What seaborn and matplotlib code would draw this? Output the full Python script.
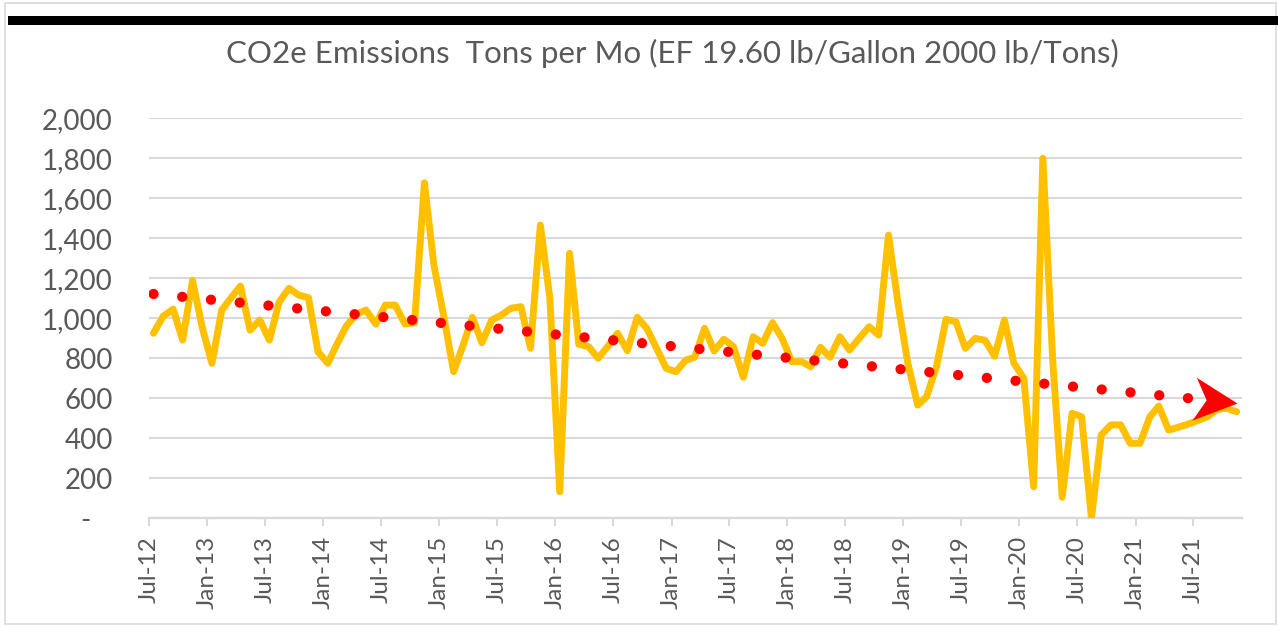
import numpy as np
import pandas as pd
import seaborn as sns
import matplotlib.pyplot as plt
import matplotlib.dates as mdates
from matplotlib.path import Path
from matplotlib.markers import MarkerStyle
from matplotlib.transforms import Affine2D
from matplotlib.patches import Rectangle

# monthly CO2e tons, Jul-12 .. Nov-21
emissions = [925, 1011, 1046, 891, 1190, 958, 775, 1041, 1100, 1161, 941, 991,
             891, 1083, 1150, 1116, 1103, 833, 775, 878, 963, 1021, 1041, 971,
             1066, 1066, 971, 978, 1678, 1265, 1010, 733, 858, 1005, 878, 991,
             1016, 1050, 1058, 850, 1466, 1100, 133, 1325, 871, 858, 800, 861,
             925, 838, 1005, 950, 850, 750, 733, 791, 805, 950, 837, 895,
             858, 705, 908, 875, 978, 900, 783, 783, 758, 855, 805, 908,
             841, 900, 958, 916, 1416, 1075, 775, 566, 608, 758, 995, 983,
             850, 900, 890, 810, 991, 775, 700, 158, 1800, 790, 105, 525,
             508, 0, 417, 467, 467, 375, 375, 508, 561, 441, 455, 471,
             488, 508, 545, 550, 533]
start_month = "2012-07-01"
y_ticks = [0, 200, 400, 600, 800, 1000, 1200, 1400, 1600, 1800, 2000]
y_labels = ["-   ", "200", "400", "600", "800", "1,000", "1,200", "1,400",
            "1,600", "1,800", "2,000"]
title = "CO2e Emissions  Tons per Mo (EF 19.60 lb/Gallon 2000 lb/Tons)"

# points sit mid-month on a date axis
dates = pd.date_range(start_month, periods=len(emissions), freq="MS") + pd.Timedelta(days=14)
df = pd.DataFrame({"date": dates, "tons": emissions})

sns.set_style("white")
plt.rcParams["font.family"] = ["Lato", "DejaVu Sans"]
grey = "#595959"
grid = "#d9d9d9"

fig = plt.figure(figsize=(12.78, 6.27), dpi=100)
ax = fig.add_axes([149 / 1278, 1 - 518.3 / 627, (1241.7 - 149) / 1278, 400 / 627])

sns.lineplot(data=df, x="date", y="tons", ax=ax, color="#FFC000", linewidth=5,
             solid_joinstyle="round", solid_capstyle="round", zorder=3)

# linear trend (Excel style dotted trendline with arrow)
xnum = mdates.date2num(df["date"])
k, b = np.polyfit(xnum, df["tons"], 1)
trend = k * xnum + b
ax.plot([xnum[0], xnum[-1]], [trend[0], trend[-1]], color="red", linewidth=7.4,
        linestyle=(0, (0.01, 2.8)), dash_capstyle="round", zorder=4)

ax.set_xlim(mdates.datestr2num("2012-07-01"), mdates.datestr2num("2021-12-01"))
ax.set_ylim(0, 2000)

# arrow head at end of trend, rotated along the line in display space
p0 = ax.transData.transform((xnum[0], trend[0]))
p1 = ax.transData.transform((xnum[-1], trend[-1]))
ang = np.degrees(np.arctan2(p1[1] - p0[1], p1[0] - p0[0]))
stealth = Path([(0, 0), (-1, 0.5), (-0.72, 0), (-1, -0.5), (0, 0)],
               [Path.MOVETO, Path.LINETO, Path.LINETO, Path.LINETO, Path.CLOSEPOLY])
head = MarkerStyle(stealth, transform=Affine2D().rotate_deg(ang))
ax.plot([xnum[-1]], [trend[-1]], marker=head, markersize=62, color="red",
        markeredgewidth=0, linestyle="none", zorder=5)

ax.set_yticks(y_ticks)
ax.set_yticklabels(y_labels)
ax.xaxis.set_major_locator(mdates.MonthLocator(bymonth=[1, 7]))
ax.xaxis.set_major_formatter(mdates.DateFormatter("%b-%y"))
plt.setp(ax.get_xticklabels(), rotation=90)

ax.grid(axis="y", color=grid, linewidth=1.5)
ax.grid(axis="x", visible=False)
ax.set_axisbelow(True)
for s in ["left", "right", "top"]:
    ax.spines[s].set_visible(False)
ax.spines["bottom"].set_color(grid)
ax.spines["bottom"].set_linewidth(1.7)
ax.tick_params(axis="x", bottom=True, direction="out", length=5.8, width=1.5,
               color=grid, labelsize=17.5, labelcolor=grey, pad=7)
ax.tick_params(axis="y", left=False, length=0, labelsize=20, labelcolor=grey, pad=26)
ax.set_xlabel("")
ax.set_ylabel("")

fig.text(672 / 1278, 1 - 63.3 / 627, title, ha="center", va="baseline",
         fontsize=22.5, color=grey)

# chart frame and black header bar
fig.add_artist(Rectangle((5 / 1278, 3 / 627), 1271 / 1278, 621 / 627,
                         transform=fig.transFigure, fill=False, edgecolor=grid, linewidth=1.2))
fig.add_artist(Rectangle((8 / 1278, 1 - 25 / 627), 1270 / 1278, 9 / 627,
                         transform=fig.transFigure, facecolor="black", edgecolor="none"))

fig.savefig("out.png", dpi=100)
